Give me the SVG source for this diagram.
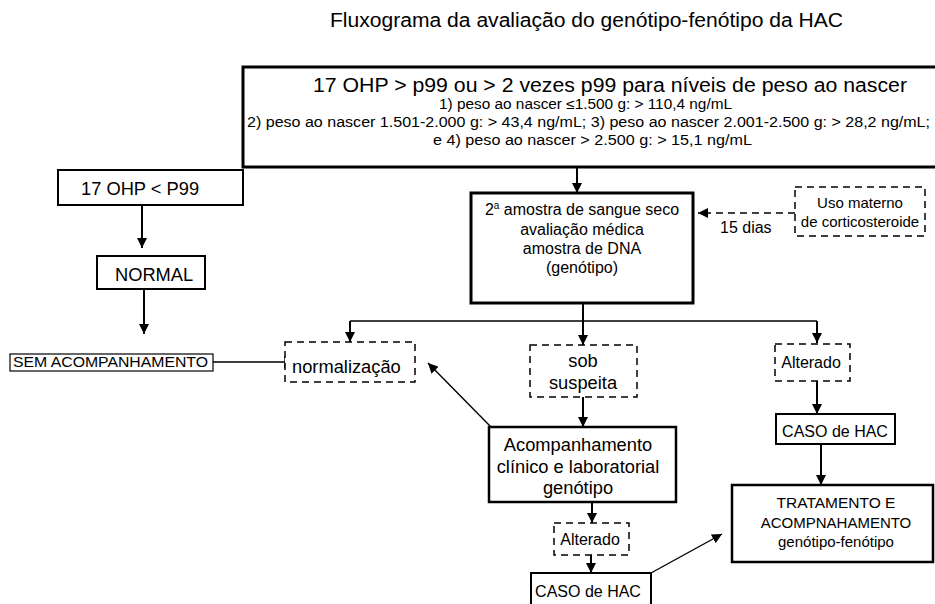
<svg xmlns="http://www.w3.org/2000/svg" width="935" height="604" viewBox="0 0 935 604">
<style>
text{font-family:"Liberation Sans",Arial,Helvetica,sans-serif;fill:#000}
.t16{font-size:16px}
.t18{font-size:18.3px}
.c{text-anchor:middle}
.box{fill:#fff;stroke:#000;stroke-width:2}
.thick{fill:#fff;stroke:#000;stroke-width:3}
.thin{fill:#fff;stroke:#000;stroke-width:1.2}
.dash{fill:#fff;stroke:#000;stroke-width:1.5;stroke-dasharray:7,5}
.con{fill:none;stroke:#000;stroke-width:2}
.lt{fill:none;stroke:#000;stroke-width:1.4}
.crit{font-size:14px}
</style>
<defs>
<marker id="ah" viewBox="0 0 10 10" markerWidth="10" markerHeight="10" markerUnits="userSpaceOnUse" refX="10" refY="5" orient="auto">
<path d="M0,0 L10,5 L0,10 z" fill="#000"/>
</marker>
</defs>
<rect width="935" height="604" fill="#fff"/>
<text id="title" x="330" y="27" style="font-size:19.5px" textLength="513" lengthAdjust="spacingAndGlyphs">Fluxograma da avaliação do genótipo-fenótipo da HAC</text>

<g id="connectors">
<path class="con" d="M577,167 V193" marker-end="url(#ah)"/>
<path class="con" d="M142,205 V248" marker-end="url(#ah)"/>
<path class="con" d="M144,289 V334" marker-end="url(#ah)"/>
<path class="lt" d="M213,362 H285 M285,356 V368"/>
<path class="lt" d="M795,213 H698" stroke-dasharray="7,5" marker-end="url(#ah)"/>
<text x="720" y="233" class="t16">15 dias</text>
<path class="con" d="M583,303 V321"/>
<path class="lt" d="M350,321 H817"/>
<path class="con" d="M350,321 V342" marker-end="url(#ah)"/>
<path class="con" d="M583,321 V345" marker-end="url(#ah)"/>
<path class="con" d="M817,321 V343" marker-end="url(#ah)"/>
<path class="con" d="M583,397 V427" marker-end="url(#ah)"/>
<path class="lt" d="M491,427 L428,363" marker-end="url(#ah)"/>
<path class="con" d="M592,502 V523" marker-end="url(#ah)"/>
<path class="con" d="M591,555 V573" marker-end="url(#ah)"/>
<path class="lt" d="M651,573 L722,534" marker-end="url(#ah)"/>
<path class="con" d="M817,381 V414" marker-end="url(#ah)"/>
<path class="con" d="M821,444 V485" marker-end="url(#ah)"/>
</g>

<g id="criteria">
<rect class="thick" x="243" y="67" width="700" height="100"/>
<text x="313" y="92" style="font-size:19.5px" textLength="594" lengthAdjust="spacingAndGlyphs">17 OHP &gt; p99 ou &gt; 2 vezes p99 para níveis de peso ao nascer</text>
<text x="439" y="109" class="crit" textLength="293" lengthAdjust="spacingAndGlyphs">1) peso ao nascer ≤1.500 g: &gt; 110,4 ng/mL</text>
<text x="247" y="127" class="crit" textLength="683" lengthAdjust="spacingAndGlyphs">2) peso ao nascer 1.501-2.000 g: &gt; 43,4 ng/mL; 3) peso ao nascer 2.001-2.500 g: &gt; 28,2 ng/mL;</text>
<text x="433" y="145" class="crit" textLength="319" lengthAdjust="spacingAndGlyphs">e 4) peso ao nascer &gt; 2.500 g: &gt; 15,1 ng/mL</text>
</g>

<g id="lt-p99">
<rect class="box" x="58" y="170" width="185" height="35"/>
<text x="81" y="195" class="t18">17 OHP &lt; P99</text>
</g>

<g id="normal">
<rect class="box" x="97" y="256" width="108" height="33"/>
<text x="115" y="281" class="t18">NORMAL</text>
</g>

<g id="sem-acomp">
<rect class="thin" x="10" y="354" width="203" height="17"/>
<text x="13" y="367" style="font-size:15px" textLength="195" lengthAdjust="spacingAndGlyphs">SEM ACOMPANHAMENTO</text>
</g>

<g id="normalizacao">
<rect class="dash" x="285" y="342" width="130" height="40"/>
<text x="292" y="373" class="t18">normalização</text>
</g>

<g id="segunda-amostra">
<rect class="thick" x="471" y="193" width="222" height="110"/>
<text x="582" y="215" class="c t16">2<tspan dy="-6" style="font-size:10px">a</tspan><tspan dy="6"> amostra de sangue seco</tspan></text>
<text x="582" y="235" class="c t16">avaliação médica</text>
<text x="582" y="254" class="c t16">amostra de DNA</text>
<text x="582" y="273" class="c t16">(genótipo)</text>
</g>

<g id="uso-materno">
<rect class="dash" x="795" y="187" width="130" height="49"/>
<text x="860" y="208" class="c" style="font-size:15px">Uso materno</text>
<text x="860" y="227" class="c" style="font-size:15px">de corticosteroide</text>
</g>

<g id="sob-suspeita">
<rect class="dash" x="530" y="345" width="107" height="52"/>
<text x="583" y="367" class="c t18">sob</text>
<text x="583" y="389" class="c t18">suspeita</text>
</g>

<g id="alterado-r">
<rect class="dash" x="775" y="344" width="75" height="37"/>
<text x="811" y="368" class="c t16">Alterado</text>
</g>

<g id="caso-r">
<rect class="box" x="776" y="414" width="119" height="30"/>
<text x="835" y="437" class="c t16">CASO de HAC</text>
</g>

<g id="acompanhamento">
<rect class="box" x="489" y="427" width="187" height="75" style="stroke-width:2.5"/>
<text x="578" y="451" class="c t18">Acompanhamento</text>
<text x="578" y="473" class="c t18">clínico e laboratorial</text>
<text x="578" y="494" class="c t18">genótipo</text>
</g>

<g id="alterado-l">
<rect class="dash" x="554" y="523" width="75" height="32"/>
<text x="590" y="545" class="c t16">Alterado</text>
</g>

<g id="caso-l">
<rect class="box" x="531" y="573" width="120" height="40"/>
<text x="588" y="597" class="c t16">CASO de HAC</text>
</g>

<g id="tratamento">
<rect class="box" x="732" y="485" width="201" height="77" style="stroke-width:2.5"/>
<text x="836" y="508" class="c" style="font-size:15.5px">TRATAMENTO E</text>
<text x="836" y="528" class="c" style="font-size:15px">ACOMPNAHAMENTO</text>
<text x="836" y="547" class="c" style="font-size:15px">genótipo-fenótipo</text>
</g>
</svg>
